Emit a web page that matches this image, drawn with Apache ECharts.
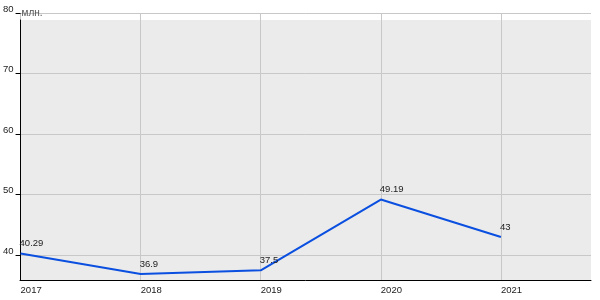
<!DOCTYPE html>
<html>
<head>
<meta charset="utf-8">
<script src="https://cdn.jsdelivr.net/npm/echarts@6/dist/echarts.min.js"></script>
<style>html,body{margin:0;padding:0;background:#fff}#c{width:600px;height:300px}</style>
</head>
<body>
<div id="c"></div>
<script>
var years = [2017, 2018, 2019, 2020, 2021];
var values = [40.29, 36.9, 37.5, 49.19, 43];
var unitLabel = 'млн.';

var yMin = 35.9, yMax = 80, yBgMax = 78.84;
var xMin = 2017, xMax = 2021.75;
var font = '"Liberation Sans", Arial, sans-serif';

var chart = echarts.init(document.getElementById('c'), null, {renderer: 'canvas'});
chart.setOption({
  animation: false,
  textStyle: {fontFamily: font},
  grid: [
    {left: 20, right: 9, top: 20, bottom: 20, show: true, backgroundColor: '#ebebeb', borderWidth: 0, z: 0},
    {left: 20, right: 9, top: 13, bottom: 20, show: false, z: 1}
  ],
  xAxis: [
    {type: 'value', gridIndex: 0, min: xMin, max: xMax, interval: 1,
     axisLine: {show: true, lineStyle: {color: '#000', width: 1}},
     axisTick: {show: false}, axisLabel: {show: false}, splitLine: {show: false}, z: 3},
    {type: 'value', gridIndex: 1, min: xMin, max: xMax, interval: 1,
     axisLine: {show: false}, axisTick: {show: false},
     axisLabel: {show: true, align: 'left', margin: 5, color: '#222', fontSize: 9.5, fontFamily: font,
       formatter: function (v) { return Number.isInteger(v) ? String(v) : ''; }},
     splitLine: {show: true, showMaxLine: false, lineStyle: {color: '#c8c8c8', width: 1}}}
  ],
  yAxis: [
    {type: 'value', gridIndex: 0, min: yMin, max: yBgMax,
     axisLine: {show: true, lineStyle: {color: '#000', width: 1}},
     axisTick: {show: false}, axisLabel: {show: false}, splitLine: {show: false}, z: 3},
    {type: 'value', gridIndex: 1, min: yMin, max: yMax, splitNumber: 4,
     name: unitLabel, nameLocation: 'end', nameGap: -5,
     nameTextStyle: {align: 'left', color: '#555', fontSize: 10, padding: [0, 0, 0, 1], fontFamily: font},
     axisLine: {show: false},
     axisTick: {show: true, length: 5, lineStyle: {color: '#000'}},
     axisLabel: {show: true, showMinLabel: false, margin: 7, color: '#222', fontSize: 9.5, fontFamily: font,
       verticalAlign: 'bottom', lineHeight: 8},
     splitLine: {show: true, lineStyle: {color: '#c8c8c8', width: 1}}}
  ],
  series: [{
    type: 'line', xAxisIndex: 1, yAxisIndex: 1,
    data: years.map(function (y, i) { return [y, values[i]]; }),
    showSymbol: true, symbol: 'circle', symbolSize: 0,
    lineStyle: {color: '#0a4fe0', width: 2},
    itemStyle: {color: '#0a4fe0'},
    label: {show: true, position: 'top', align: 'left', distance: 5, offset: [-1, 0], color: '#222', fontSize: 9.5, fontFamily: font,
      formatter: function (p) { return String(p.value[1]); }},
    z: 5
  }]
});
</script>
</body>
</html>
